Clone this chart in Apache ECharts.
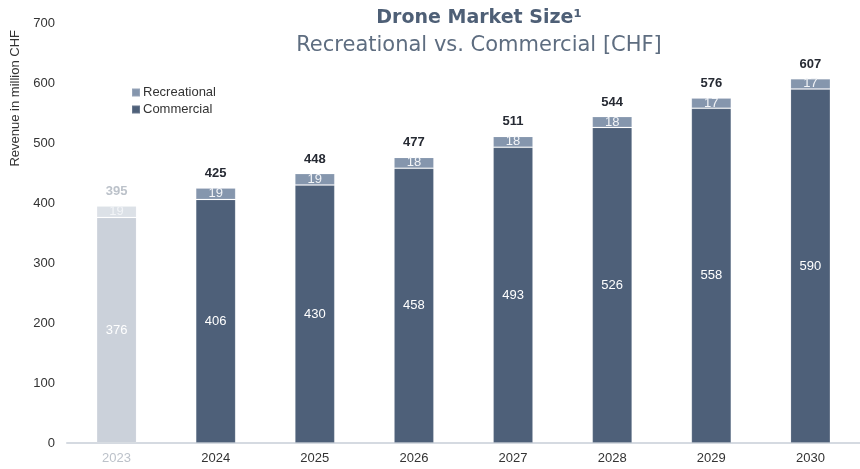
<!DOCTYPE html>
<html lang="en">
<head>
    <meta charset="utf-8">
    <title>Drone Market Size</title>
    <script src="https://cdn.jsdelivr.net/npm/echarts@6/dist/echarts.min.js"></script>
    <style>
        html, body { margin: 0; padding: 0; background: #fff; }
        #chart { width: 860px; height: 469px; }
    </style>
</head>
<body>
<div id="chart"></div>
<script>
var years = ['2023', '2024', '2025', '2026', '2027', '2028', '2029', '2030'];
var commercial = [376, 406, 430, 458, 493, 526, 558, 590];
var recreational = [19, 19, 19, 18, 18, 18, 17, 17];
var totals = [395, 425, 448, 477, 511, 544, 576, 607];

var font = 'Liberation Sans, Arial, sans-serif';

// 2023 is the greyed-out base year
function styled(values, color, pastColor) {
    return values.map(function (v, i) {
        return {
            value: v,
            itemStyle: { color: i === 0 ? pastColor : color }
        };
    });
}

echarts.init(document.getElementById('chart')).setOption({
    animation: false,
    title: [{
        text: 'Drone Market Size\u00b9',
        left: 474,
        top: 4,
        textAlign: 'center',
        textStyle: { fontFamily: 'DejaVu Sans', fontSize: 19, fontWeight: 'bold', color: '#4E5F76' }
    }, {
        text: 'Recreational vs. Commercial [CHF]',
        left: 474,
        top: 30,
        textAlign: 'center',
        textStyle: { fontFamily: 'DejaVu Sans', fontSize: 21, fontWeight: 'normal', color: '#5E6D80' }
    }],
    legend: {
        orient: 'vertical',
        left: 126,
        top: 81,
        itemWidth: 8,
        itemHeight: 8,
        itemGap: 4,
        icon: 'rect',
        data: ['Recreational', 'Commercial'],
        textStyle: { fontFamily: font, fontSize: 13, color: '#333', padding: [0, 0, 0, -2] }
    },
    graphic: [{
        type: 'text',
        left: 9,
        top: 30,
        rotation: Math.PI / 2,
        style: {
            text: 'Revenue in million CHF',
            font: '13px ' + font,
            fill: '#333'
        }
    }],
    grid: { left: 67, top: 23, width: 800, bottom: 26 },
    xAxis: {
        type: 'category',
        data: years,
        axisTick: { show: false },
        axisLine: { lineStyle: { color: '#D5DAE1', width: 2 } },
        axisLabel: {
            fontFamily: font,
            fontSize: 13,
            margin: 9,
            color: function (v) { return v === '2023' ? '#BCC2CA' : '#333'; }
        }
    },
    yAxis: {
        type: 'value',
        min: 0,
        max: 700,
        interval: 100,
        splitLine: { show: false },
        axisLine: { show: false },
        axisTick: { show: false },
        axisLabel: { fontFamily: font, fontSize: 13, color: '#333', margin: 12 }
    },
    series: [{
        name: 'Commercial',
        type: 'bar',
        stack: 'total',
        barWidth: 40,
        itemStyle: { color: '#4E6079', borderColor: 'rgba(255,255,255,0.15)', borderWidth: 1 },
        data: styled(commercial, '#4E6079', '#CBD1DA'),
        label: {
            show: true,
            position: 'inside',
            fontFamily: font,
            fontSize: 13,
            color: '#fff'
        }
    }, {
        name: 'Recreational',
        type: 'bar',
        stack: 'total',
        itemStyle: { color: '#8596AD', borderColor: 'rgba(255,255,255,0.15)', borderWidth: 1 },
        data: styled(recreational, '#8596AD', '#DCE1E7'),
        label: {
            show: true,
            position: 'inside',
            fontFamily: font,
            fontSize: 13,
            color: '#F2F4F7'
        }
    }, {
        name: 'Total',
        type: 'bar',
        stack: 'total',
        silent: true,
        itemStyle: { color: 'transparent' },
        data: totals.map(function (t, i) {
            return {
                value: 0,
                label: { color: i === 0 ? '#BCC2CA' : '#262A33' }
            };
        }),
        label: {
            show: true,
            position: 'top',
            distance: 8,
            fontFamily: font,
            fontSize: 13,
            fontWeight: 'bold',
            textBorderWidth: 0,
            formatter: function (p) { return totals[p.dataIndex]; }
        }
    }]
});
</script>
</body>
</html>
